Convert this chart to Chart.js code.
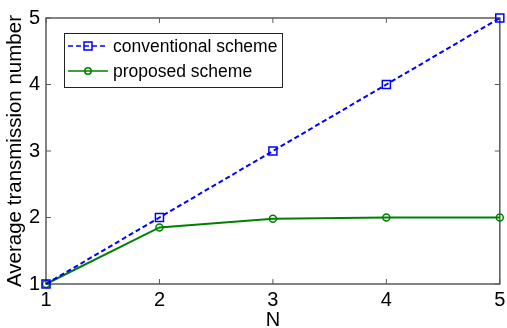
<!DOCTYPE html>
<html>
<head>
<meta charset="utf-8">
<script src="https://cdn.jsdelivr.net/npm/chart.js@4/dist/chart.umd.min.js"></script>
<style>
  html, body { margin: 0; padding: 0; background: #fff; }
  canvas { display: block; }
</style>
</head>
<body>
<canvas id="chart" width="507" height="328"></canvas>
<script>
// data
let nValues = [1, 2, 3, 4, 5]
let conventional = [1, 2, 3, 4, 5]
let proposed = [1, 1.85, 1.98, 2.0, 2.0]
let tickValues = [1, 2, 3, 4, 5]

let axisColor = "#5a5a5a"
let fontFamily = "'Liberation Sans', Arial, sans-serif"

function toPoints(ys) {
  return nValues.map((n, i) => ({ x: n, y: ys[i] }))
}

// MATLAB-style box with inward ticks
let boxPlugin = {
  id: "box",
  beforeDatasetsDraw(chart) {
    let ctx = chart.ctx
    let a = chart.chartArea
    let xs = chart.scales.x
    let ys = chart.scales.y
    ctx.save()
    ctx.strokeStyle = axisColor
    ctx.lineWidth = 1.5
    ctx.strokeRect(a.left, a.top, a.right - a.left, a.bottom - a.top)
    ctx.lineWidth = 1
    ctx.beginPath()
    tickValues.forEach(v => {
      let px = xs.getPixelForValue(v)
      ctx.moveTo(px, a.bottom); ctx.lineTo(px, a.bottom - 5)
      ctx.moveTo(px, a.top); ctx.lineTo(px, a.top + 5)
      let py = ys.getPixelForValue(v)
      ctx.moveTo(a.left, py); ctx.lineTo(a.left + 5, py)
      ctx.moveTo(a.right, py); ctx.lineTo(a.right - 5, py)
    })
    ctx.stroke()
    ctx.restore()
  }
}

// legend box inside the plot, top left
let legendPlugin = {
  id: "insideLegend",
  afterDraw(chart) {
    let ctx = chart.ctx
    let x0 = 64, y0 = 33, w = 218, h = 54
    ctx.save()
    ctx.fillStyle = "#fff"
    ctx.fillRect(x0, y0, w, h)
    ctx.strokeStyle = "#222"
    ctx.lineWidth = 1
    ctx.strokeRect(x0 + 0.5, y0 + 0.5, w, h)
    chart.data.datasets.forEach((ds, i) => {
      let cy = y0 + 13 + i * 25
      ctx.strokeStyle = ds.borderColor
      ctx.lineWidth = 1.5
      ctx.setLineDash(ds.borderDash || [])
      ctx.beginPath()
      ctx.moveTo(x0 + 4, cy)
      ctx.lineTo(x0 + 44, cy)
      ctx.stroke()
      ctx.setLineDash([])
      ctx.lineWidth = 1.5
      ctx.beginPath()
      if (ds.pointStyle === "rect") {
        ctx.rect(x0 + 24 - 4, cy - 4, 8, 8)
      } else {
        ctx.arc(x0 + 24, cy, 3.2, 0, Math.PI * 2)
      }
      ctx.stroke()
      ctx.fillStyle = "#000"
      ctx.font = "17.5px " + fontFamily
      ctx.textBaseline = "middle"
      ctx.fillText(ds.label, x0 + 49, cy + 1)
    })
    ctx.restore()
  }
}

let canvasElement = document.getElementById("chart")
let config = {
  type: "line",
  data: {
    datasets: [
      {
        label: "conventional scheme",
        data: toPoints(conventional),
        borderColor: "#0000ff",
        borderWidth: 2,
        borderDash: [5, 3],
        pointStyle: "rect",
        pointRadius: 5.7,
        pointBorderWidth: 1.5,
        pointBackgroundColor: "rgba(0,0,0,0)",
        pointBorderColor: "#0000ff",
        clip: false
      },
      {
        label: "proposed scheme",
        data: toPoints(proposed),
        borderColor: "#008000",
        borderWidth: 2,
        pointStyle: "circle",
        pointRadius: 3.5,
        pointBorderWidth: 1.5,
        pointBackgroundColor: "rgba(0,0,0,0)",
        pointBorderColor: "#008000",
        clip: false
      }
    ]
  },
  options: {
    responsive: false,
    animation: false,
    layout: { padding: { top: 15, right: 0, left: 0, bottom: 0 } },
    plugins: { legend: { display: false }, tooltip: { enabled: false } },
    scales: {
      x: {
        type: "linear",
        min: 1,
        max: 5,
        afterBuildTicks(scale) { scale.ticks = tickValues.map(v => ({ value: v })) },
        afterFit(scale) {
          scale.height = 44
          scale.paddingLeft = 0
          scale.paddingRight = 5
        },
        grid: { display: false, drawTicks: false },
        border: { display: false },
        ticks: { color: "#000", padding: 4, font: { size: 20, family: fontFamily } },
        title: { display: true, text: "N", color: "#000", padding: { top: 0, bottom: 0 }, font: { size: 20, family: fontFamily, lineHeight: 0.75 } }
      },
      y: {
        type: "linear",
        min: 1,
        max: 5,
        afterBuildTicks(scale) { scale.ticks = tickValues.map(v => ({ value: v })) },
        afterFit(scale) { scale.width = 46 },
        grid: { display: false, drawTicks: false },
        border: { display: false },
        ticks: { color: "#000", padding: 6, font: { size: 20, family: fontFamily } },
        title: { display: true, text: "Average transmission number", color: "#000", padding: { top: 3, bottom: 0 }, font: { size: 20.5, family: fontFamily } }
      }
    }
  },
  plugins: [boxPlugin, legendPlugin]
}
let chart = new Chart(canvasElement, config)
</script>
</body>
</html>
